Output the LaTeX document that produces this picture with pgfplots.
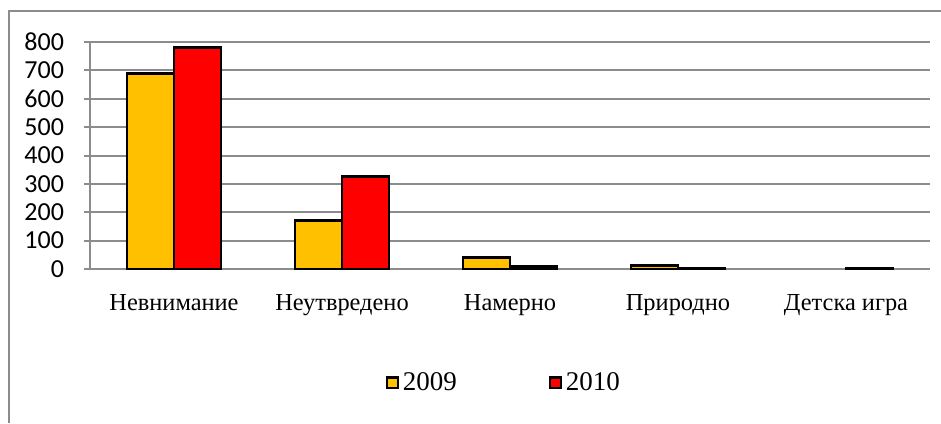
\documentclass[border=0pt]{standalone}
\usepackage{fontspec}
\setmainfont{Liberation Serif}
\newfontfamily\carlito{Carlito}
\usepackage{pgfplots}
\pgfplotsset{compat=1.18}
\definecolor{gold}{HTML}{FFC000}
\definecolor{gridgray}{HTML}{8C8C8C}

\begin{document}
\begin{tikzpicture}
  \path[use as bounding box] (-45pt,-77pt) rectangle (425.5pt,134.5pt);
  \draw[gridgray, line width=1pt] (-40.5pt,-77pt) -- (-40.5pt,129pt) -- (425.5pt,129pt);
  \begin{axis}[
    at={(0,0)}, anchor=south west,
    scale only axis,
    width=420pt, height=113.5pt,
    xmin=-0.5, xmax=4.5,
    ymin=0, ymax=800,
    ytick={0,100,...,800},
    xtick={0,...,4},
    xticklabels={Невнимание, Неутвредено, Намерно, Природно, Детска игра},
    extra x ticks={-0.5,0.5,...,4.5},
    extra x tick labels={},
    extra x tick style={major tick length=3pt},
    axis x line*=bottom,
    axis y line*=left,
    axis line style={gridgray, line width=1pt, -},
    tick align=outside,
    major tick length=3pt,
    x tick style={gridgray, line width=1pt},
    y tick style={gridgray, line width=1pt},
    xtick style={draw=none},
    ymajorgrids,
    grid style={gridgray, line width=1pt},
    /pgf/number format/assume math mode=true,
    yticklabel style={font=\carlito\fontsize{13}{14}\selectfont, xshift=-6.5pt},
    xticklabel style={font=\fontsize{12.2}{14}\selectfont, yshift=-6pt},
    ybar=0pt,
    bar width=23.5pt,
    legend columns=2,
    legend style={at={(0.494,-0.502)}, anchor=center, draw=none,
      font=\fontsize{13.5}{15}\selectfont},
    legend image code/.code={\draw[#1, line width=1.1pt] (0pt,-2.7pt) rectangle (5.4pt,2.7pt);},
  ]
    \addplot[fill=gold, draw=black, line width=1.4pt]
      coordinates {(0,690) (1,170) (2,40) (3,12)};
    \addlegendentry{2009\hspace*{44pt}}
    \addplot[fill=red, draw=black, line width=1.4pt]
      coordinates {(0,780) (1,325) (2,10) (3,2) (4,2)};
    \addlegendentry{2010}
  \end{axis}
\end{tikzpicture}
\end{document}
